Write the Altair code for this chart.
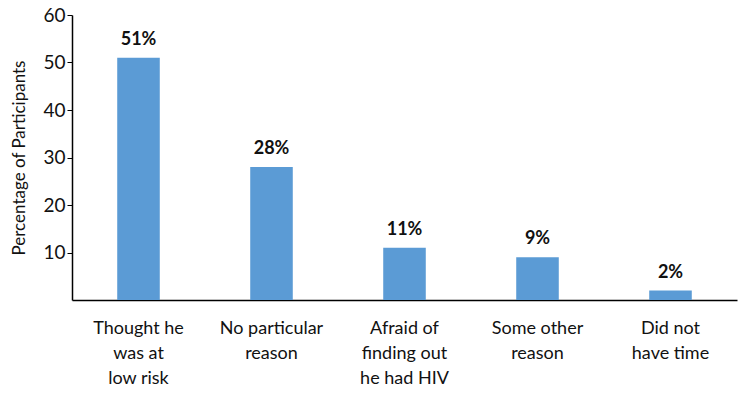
import altair as alt
import pandas as pd

categories = ["Thought he|was at|low risk", "No particular|reason", "Afraid of|finding out|he had HIV",
              "Some other|reason", "Did not|have time"]
values = [51, 28, 11, 9, 2]
labels = ["51%", "28%", "11%", "9%", "2%"]

df = pd.DataFrame({"cat": categories, "val": values, "lab": labels})

FONT = "Lato"

x = alt.X("cat:N", sort=categories, title=None,
          scale=alt.Scale(paddingInner=0.68, paddingOuter=0.34),
          axis=alt.Axis(labelExpr="split(datum.label, '|')", labelAngle=0, ticks=False,
                        domainColor="black", domainWidth=1.5, labelFont=FONT, labelFontSize=18,
                        labelColor="#111111", labelPadding=28, labelLineHeight=25,
                        labelBaseline="middle"))
y = alt.Y("val:Q", title="Percentage of Participants",
          scale=alt.Scale(domain=[0, 60], nice=False),
          axis=alt.Axis(values=[10, 20, 30, 40, 50, 60], grid=False, domainColor="black",
                        domainWidth=1.5, tickColor="black", tickSize=5, labelFont=FONT,
                        labelFontSize=19, labelColor="#111111", labelPadding=2,
                        titleFont=FONT, titleFontSize=17, titleFontWeight="normal",
                        titleColor="#111111", titlePadding=14))

bars = alt.Chart(df).mark_bar(color="#5B9BD5").encode(x=x, y=y)
text = alt.Chart(df).mark_text(font=FONT, fontSize=18, fontWeight="bold", dy=-18,
                               color="#111111").encode(x=alt.X("cat:N", sort=categories),
                                                       y="val:Q", text="lab:N")

chart = (bars + text).properties(
    width=665, height=285,
    autosize=alt.AutoSizeParams(type="none"),
    padding={"left": 72, "top": 15, "right": 4, "bottom": 94},
).configure_view(stroke=None)

chart.save("out.html", embed_options={"renderer": "svg", "actions": False})
